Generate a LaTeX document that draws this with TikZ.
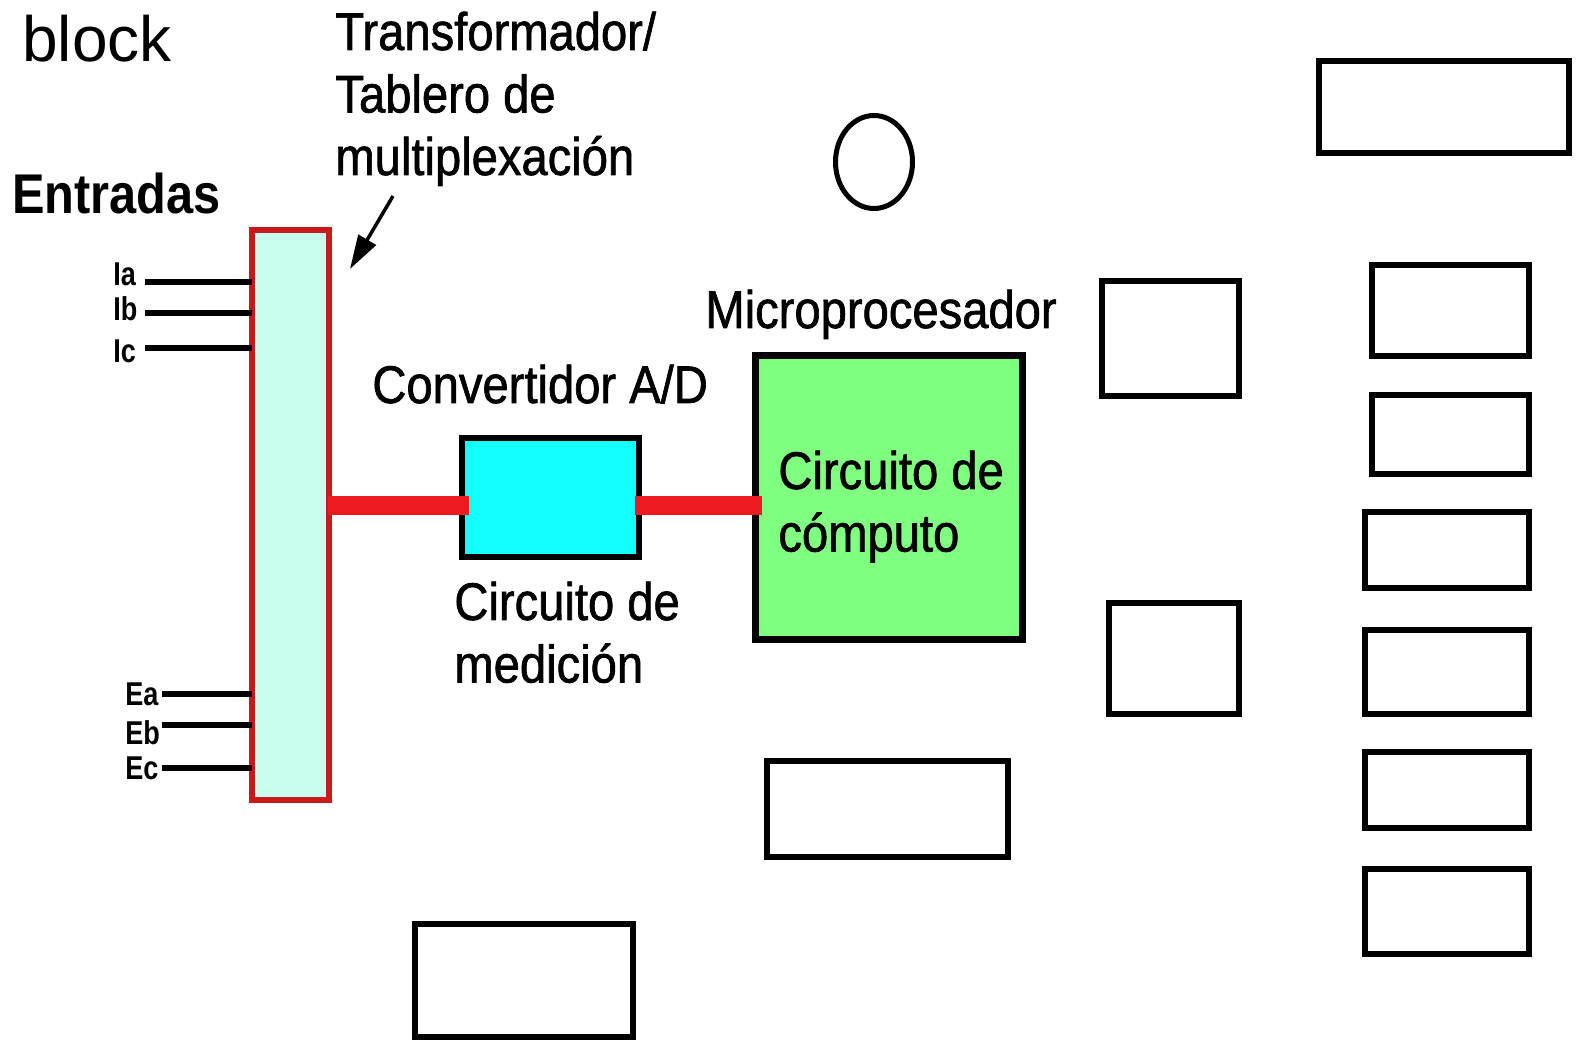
\documentclass[tikz,border=0pt]{standalone}
\usepackage{fontspec}
\setmainfont{Liberation Sans}
\newfontfamily\narrowf[FakeStretch=0.89,FakeBold=1.2]{Liberation Sans}
\newfontfamily\smallf[FakeStretch=0.82]{Liberation Sans}
\newfontfamily\entf[FakeStretch=0.87]{Liberation Sans}
\usetikzlibrary{shapes.geometric,arrows.meta,fit}
\definecolor{muxred}{RGB}{200,26,26}
\definecolor{linkred}{RGB}{237,28,36}
\definecolor{muxfill}{RGB}{200,253,238}
\definecolor{adcfill}{RGB}{19,255,255}
\definecolor{cpufill}{RGB}{128,255,128}
\begin{document}
\begin{tikzpicture}[x=0.5pt,y=-0.5pt,
  ebox/.style={draw=black,line width=3.25pt,inner sep=0pt},
  lbl/.style={anchor=base west,inner sep=0pt,font=\narrowf\fontsize{26.5}{31.25}\selectfont},
  small/.style={anchor=base west,inner sep=0pt,font=\smallf\bfseries\fontsize{16.5}{18}\selectfont},
  inl/.style={line width=3.25pt,shorten >=-1.5pt},
  link/.style={draw=linkred,line width=9.5pt}]
\useasboundingbox (0,0) rectangle (1576,1042);
% title
\node[anchor=base west,inner sep=0pt,font=\fontsize{32}{36}\selectfont] (title) at (22,62) {block};
% multiplexer board
\node[draw=muxred,line width=3.25pt,fill=muxfill,inner sep=0pt,fit={(252,230) (329,800)}] (mux) {};
% A/D converter
\node[ebox,fill=adcfill,fit={(462,438) (639,557)}] (adc) {};
% microprocessor
\node[draw=black,line width=3.5pt,fill=cpufill,inner sep=0pt,fit={(755.5,355.5) (1022.5,639.5)}] (cpu) {};
% circle
\node[draw,ellipse,line width=2.5pt,minimum width=38.5pt,minimum height=46.5pt,inner sep=0pt] (circ) at (874,162) {};
% empty boxes
\node[ebox,fit={(1319,61) (1569,153)}] (b1) {};
\node[ebox,fit={(1102,281) (1239,396)}] (b2) {};
\node[ebox,fit={(1372,265) (1529,356)}] (b3) {};
\node[ebox,fit={(1372,395) (1529,474)}] (b4) {};
\node[ebox,fit={(1109,603) (1239,714)}] (b5) {};
\node[ebox,fit={(1365,512) (1529,588)}] (b6) {};
\node[ebox,fit={(1365,630) (1529,714)}] (b7) {};
\node[ebox,fit={(1365,752) (1529,828)}] (b8) {};
\node[ebox,fit={(1365,869) (1529,954)}] (b9) {};
\node[ebox,fit={(767,761) (1008,857)}] (b10) {};
\node[ebox,fit={(415,924) (633,1037)}] (b11) {};
% red links
\coordinate (lvl) at (0,506);
\draw[link,shorten <=-2pt,shorten >=-5pt] (mux.east |- lvl) -- (adc.west |- lvl);
\draw[link,shorten <=-3.5pt,shorten >=-4.75pt] (adc.east |- lvl) -- (cpu.west |- lvl);
% inputs
\coordinate (pIa) at (145,282);
\coordinate (pIb) at (145,313);
\coordinate (pIc) at (145,348);
\coordinate (pEa) at (162,694);
\coordinate (pEb) at (162,725);
\coordinate (pEc) at (162,768);
\foreach \p in {pIa,pIb,pIc,pEa,pEb,pEc}{\draw[inl] (\p) -- (\p -| mux.west);}
\node[small] (lIa) at (113,286) {Ia};
\node[small] (lIb) at (113,321) {Ib};
\node[small] (lIc) at (113,363) {Ic};
\node[small] (lEa) at (125,706) {Ea};
\node[small] (lEb) at (125,745) {Eb};
\node[small] (lEc) at (125,780) {Ec};
% texts
\node[anchor=base west,inner sep=0pt,font=\entf\bfseries\fontsize{28}{32}\selectfont] (ent) at (12,214) {Entradas};
\node[lbl] (tr) at (335,50) {\vtop{\hbox{Transformador/}\hbox{Tablero de}\hbox{multiplexación}}};
\node[lbl] (conv) at (372,403) {Convertidor A/D};
\node[lbl] (med) at (454,620) {\vtop{\hbox{Circuito de}\hbox{medición}}};
\node[lbl] (micro) at (705,328) {Microprocesador};
\node[lbl] (comp) at (778,489) {\vtop{\hbox{Circuito de}\hbox{cómputo}}};
% pointer arrow
\coordinate (arT) at (393,196);
\coordinate (arH) at (350,269);
\draw[line width=1.75pt,-{Triangle[length=17pt,width=10pt]}] (arT) -- (arH);
\end{tikzpicture}
\end{document}
